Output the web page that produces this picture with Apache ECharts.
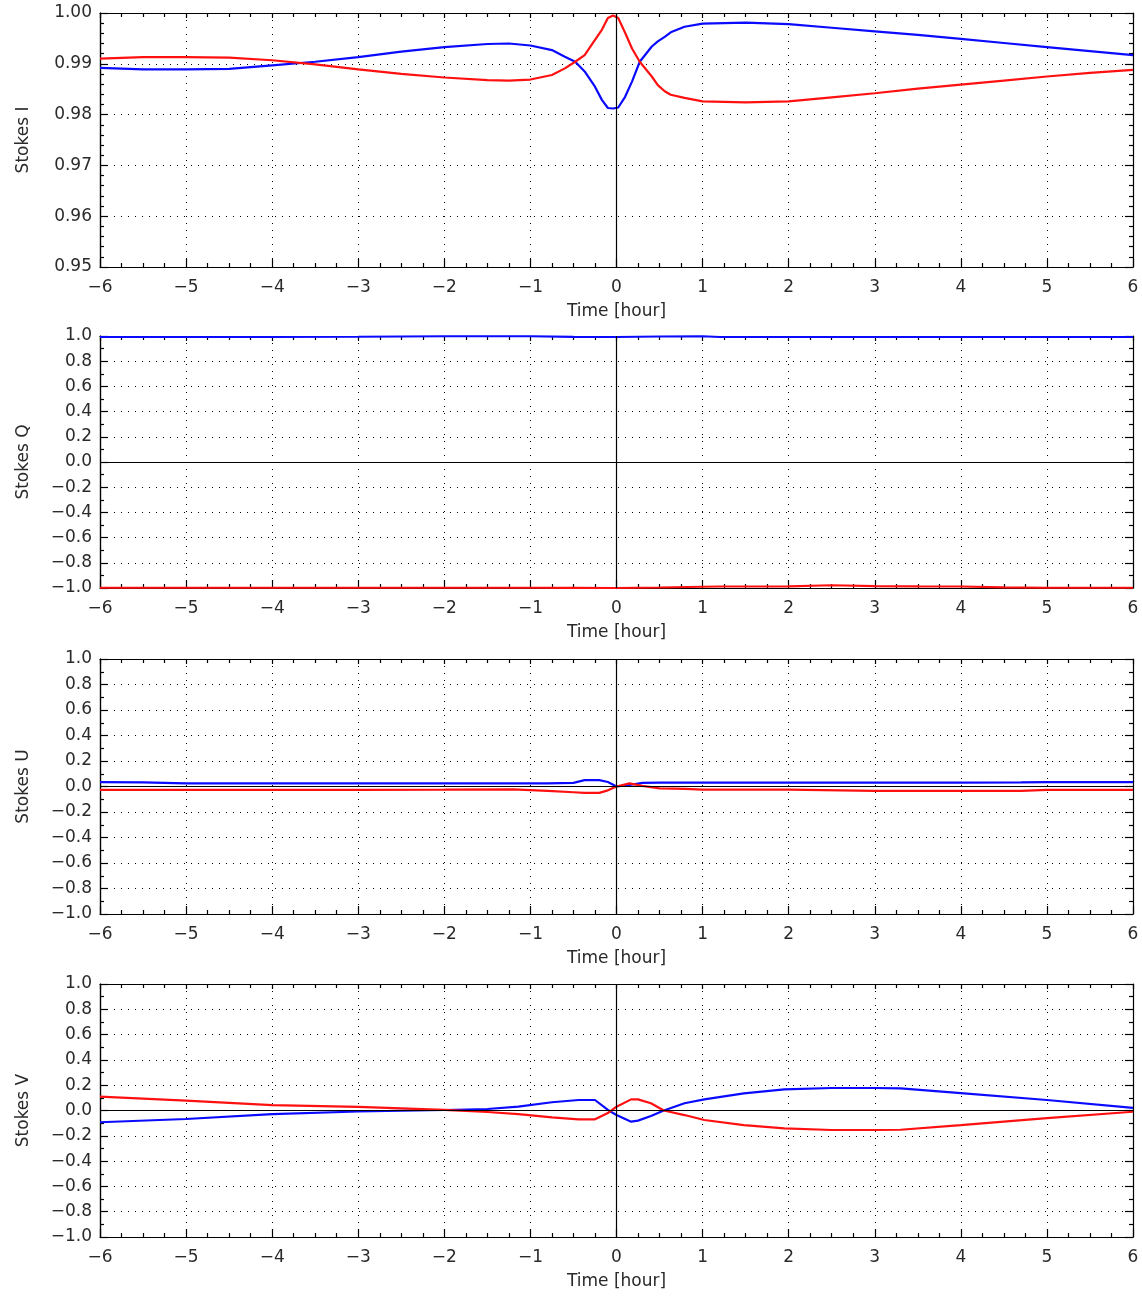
<!DOCTYPE html>
<html><head><meta charset="utf-8">
<script src="https://cdn.jsdelivr.net/npm/echarts@6/dist/echarts.min.js"></script>
<style>html,body{margin:0;padding:0;background:#fff}#c{width:1142px;height:1296px}</style>
</head><body><div id="c"></div>
<script>
// ---- data (hours, Stokes values) ----
const xTicks = [-6,-5,-4,-3,-2,-1,0,1,2,3,4,5,6];
const iTime = [-6,-5.5,-5,-4.5,-4,-3.5,-3,-2.5,-2,-1.5,-1.25,-1,-0.75,-0.6,-0.48,-0.37,-0.25,-0.17,-0.1,-0.04,0.02,0.1,0.18,0.27,0.41,0.48,0.56,0.63,0.79,1,1.5,2,2.5,3,3.5,4,4.5,5,5.5,6];
const iBlue = [0.9892,0.9889,0.9889,0.9890,0.9897,0.9904,0.9913,0.9924,0.9933,0.9939,0.9940,0.9936,0.9927,0.9914,0.9904,0.9885,0.9855,0.9829,0.9813,0.9812,0.9814,0.9835,0.9865,0.9904,0.9934,0.9944,0.9953,0.9962,0.9973,0.9979,0.9981,0.9978,0.9971,0.9964,0.9957,0.9949,0.9941,0.9933,0.9925,0.9917];
const iRed  = [0.9910,0.9913,0.9913,0.9912,0.9907,0.9899,0.9889,0.9880,0.9873,0.9868,0.9867,0.9869,0.9878,0.9891,0.9904,0.9917,0.9947,0.9967,0.9990,0.9995,0.9990,0.9961,0.9930,0.9904,0.9875,0.9858,0.9846,0.9839,0.9833,0.9826,0.9824,0.9826,0.9834,0.9842,0.9851,0.9859,0.9867,0.9875,0.9882,0.9888];
const qTime = [-6,-5,-4,-3,-2,-1,-0.5,0,0.5,1,1.2,2,2.5,3,3.5,4,4.5,5,6];
const qBlue = [0.992,0.992,0.992,0.994,0.998,0.998,0.993,0.992,0.996,0.998,0.992,0.992,0.992,0.992,0.992,0.992,0.992,0.992,0.992];
const qRed  = [-0.998,-0.998,-0.998,-0.998,-0.998,-0.998,-0.999,-1.0,-0.996,-0.990,-0.988,-0.987,-0.978,-0.985,-0.987,-0.988,-0.995,-0.998,-0.998];
const uTime = [-6,-5.5,-5,-4,-3,-2,-1.2,-0.8,-0.5,-0.37,-0.2,-0.1,0,0.15,0.3,0.5,0.8,1,2,3,4,4.7,5,6];
const uBlue = [0.035,0.033,0.025,0.025,0.025,0.025,0.025,0.025,0.028,0.05,0.05,0.035,0.0,0.012,0.028,0.03,0.03,0.03,0.03,0.03,0.03,0.033,0.035,0.035];
const uRed  = [-0.027,-0.027,-0.027,-0.027,-0.027,-0.025,-0.022,-0.035,-0.045,-0.05,-0.05,-0.03,0.0,0.025,0.005,-0.015,-0.018,-0.025,-0.025,-0.035,-0.035,-0.035,-0.027,-0.027];
const vTime = [-6,-5,-4,-3,-2,-1.5,-1.14,-0.75,-0.44,-0.25,-0.1,0,0.17,0.25,0.4,0.55,0.79,1.02,1.48,1.95,2.5,3,3.3,4,5,6];
const vBlue = [-0.093,-0.067,-0.028,-0.008,0.004,0.012,0.03,0.065,0.083,0.083,0.004,-0.035,-0.088,-0.08,-0.044,0.0,0.057,0.088,0.136,0.167,0.178,0.178,0.175,0.138,0.083,0.02];
const vRed  = [0.109,0.078,0.043,0.028,0.005,-0.012,-0.028,-0.054,-0.07,-0.07,-0.02,0.03,0.088,0.088,0.057,0.0,-0.036,-0.075,-0.115,-0.141,-0.154,-0.154,-0.152,-0.115,-0.06,-0.01];
const panelNames = ['Stokes I','Stokes Q','Stokes U','Stokes V'];

// ---- layout ----
const layout = [
  {top:13, height:254, min:0.95, max:1.0, interval:0.01, minor:5, dec:2, zero:false},
  {top:336, height:252, min:-1, max:1, interval:0.2, minor:2, dec:1, zero:true},
  {top:659, height:255, min:-1, max:1, interval:0.2, minor:2, dec:1, zero:true},
  {top:984, height:253, min:-1, max:1, interval:0.2, minor:2, dec:1, zero:true}
];
const series_src = [[iTime,iBlue,iRed],[qTime,qBlue,qRed],[uTime,uBlue,uRed],[vTime,vBlue,vRed]];
const BLUE = '#0a0aff', RED = '#ff1010', TXT = '#2a2a2a';
const FONT = 'DejaVu Sans';
const FS = 17;
const minus = s => String(s).replace('-', '\u2212');

const grids = [], xAxes = [], yAxes = [], series = [];
layout.forEach((p, k) => {
  grids.push({left:100, right:9, top:p.top, height:p.height, containLabel:false});
  const tickMajor = () => ({show:true, inside:true, length:8, lineStyle:{color:'#000', width:1.2}});
  const tickTop = () => ({show:true, inside:true, length:5, lineStyle:{color:'#000', width:1.2}});
  const minorX = () => ({show:true, splitNumber:4, length:4, lineStyle:{color:'#000', width:1.2}});
  const minorY = () => ({show:true, splitNumber:p.minor, length:4, lineStyle:{color:'#000', width:1.2}});
  const axisLine = () => ({show:true, onZero:false, lineStyle:{color:'#000', width:1.2}});
  // bottom x
  xAxes.push({type:'value', gridIndex:k, min:-6, max:6, interval:1, position:'bottom',
    axisLine:axisLine(), axisTick:tickMajor(), minorTick:minorX(),
    axisLabel:{color:TXT, fontFamily:FONT, fontSize:FS, margin:12, formatter:v=>minus(v)},
    splitLine:{show:true, lineStyle:{color:'#000', type:[1,6], width:1}},
    name:'Time [hour]', nameLocation:'middle', nameGap:36,
    nameTextStyle:{color:TXT, fontFamily:FONT, fontSize:FS}});
  // top x (box)
  xAxes.push({type:'value', gridIndex:k, min:-6, max:6, interval:1, position:'top',
    axisLine:axisLine(), axisTick:tickTop(), minorTick:minorX(),
    axisLabel:{show:false}, splitLine:{show:false}});
  // left y (labels, grid, name)
  yAxes.push({type:'value', gridIndex:k, min:p.min, max:p.max, interval:p.interval, position:'left',
    axisLine:axisLine(), axisTick:{show:false}, minorTick:{show:false},
    axisLabel:{color:TXT, fontFamily:FONT, fontSize:FS, margin:8, formatter:v=>minus(v.toFixed(p.dec))},
    splitLine:{show:true, lineStyle:{color:'#000', type:[1,6], width:1}},
    name:panelNames[k], nameLocation:'middle', nameGap:68, nameRotate:90,
    nameTextStyle:{color:TXT, fontFamily:FONT, fontSize:FS}});
  // right y (box)
  yAxes.push({type:'value', gridIndex:k, min:p.min, max:p.max, interval:p.interval, position:'right',
    axisLine:axisLine(), axisTick:tickMajor(), minorTick:minorY(),
    axisLabel:{show:false}, splitLine:{show:false}});
  // left y ticks only
  yAxes.push({type:'value', gridIndex:k, min:p.min, max:p.max, interval:p.interval, position:'left',
    axisLine:axisLine(), axisTick:tickMajor(), minorTick:minorY(),
    axisLabel:{show:false}, splitLine:{show:false}});
  const [t, b, r] = series_src[k];
  const mk = [{xAxis:0}];
  if (p.zero) mk.push({yAxis:0});
  series.push({type:'line', xAxisIndex:2*k, yAxisIndex:3*k, data:t.map((x,i)=>[x,b[i]]),
    showSymbol:false, clip:false, lineStyle:{color:BLUE, width:2.2}, itemStyle:{color:BLUE}, z:3,
    markLine:{silent:true, symbol:'none', label:{show:false}, animation:false,
      lineStyle:{color:'#000', type:'solid', width:1.2}, data:mk}});
  series.push({type:'line', xAxisIndex:2*k, yAxisIndex:3*k, data:t.map((x,i)=>[x,r[i]]),
    showSymbol:false, clip:false, lineStyle:{color:RED, width:2.2}, itemStyle:{color:RED}, z:4});
});

const chart = echarts.init(document.getElementById('c'), null, {renderer:'canvas'});
chart.setOption({animation:false, backgroundColor:'#fff', grid:grids, xAxis:xAxes, yAxis:yAxes, series});
</script></body></html>
